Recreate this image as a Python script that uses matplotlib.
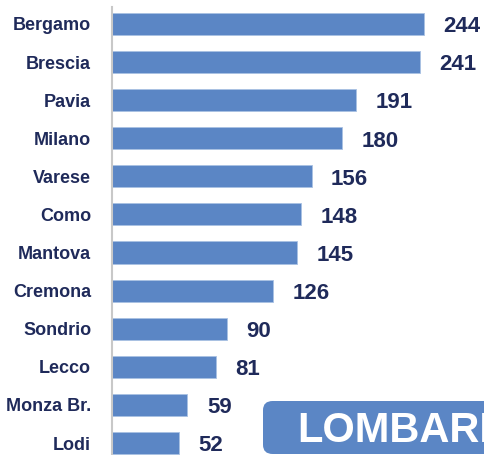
"""Horizontal bar chart of counts by province, Lombardia."""

import matplotlib
matplotlib.use("Agg")
import matplotlib.pyplot as plt
from matplotlib.patches import FancyBboxPatch

provinces = ["Bergamo", "Brescia", "Pavia", "Milano", "Varese", "Como",
             "Mantova", "Cremona", "Sondrio", "Lecco", "Monza Br.", "Lodi"]
counts = [244, 241, 191, 180, 156, 148, 145, 126, 90, 81, 59, 52]
region_label = "LOMBARDIA"

BAR_COLOR = "#5B86C5"
TEXT_COLOR = "#1F2A5A"

plt.rcParams["font.family"] = ["Liberation Sans", "DejaVu Sans"]

fig = plt.figure(figsize=(4.85, 4.55), dpi=100)
ax = fig.add_axes([112 / 485, 0, 1 - 112 / 485, 1 - 7 / 455])

positions = list(range(len(provinces)))
bars = ax.barh(positions, counts, height=0.58, color=BAR_COLOR,
               edgecolor="#A9C1E3", linewidth=0.6)

for bar, value in zip(bars, counts):
    ax.annotate(f"{value}", xy=(bar.get_width(), bar.get_y() + bar.get_height() / 2),
                xytext=(14, -2), textcoords="offset points", va="center", ha="left",
                fontsize=16, fontweight="bold", color=TEXT_COLOR)

ax.set_xlim(0, (485 - 112) / 1.279)
ax.set_ylim(11.315, -0.446)
ax.set_yticks(positions)
ax.set_yticklabels(provinces, fontsize=13, fontweight="bold", color=TEXT_COLOR)
ax.tick_params(axis="y", length=0, pad=15)
ax.set_xticks([])

for side in ["top", "right", "bottom"]:
    ax.spines[side].set_visible(False)
ax.spines["left"].set_color("#C8C8C8")
ax.spines["left"].set_linewidth(1.5)

# region badge in the lower right corner, running off the edge
badge = FancyBboxPatch((263 / 485, 1 / 455), 260 / 485, 53 / 455,
                       boxstyle="round,pad=0,rounding_size=0.02",
                       transform=fig.transFigure, facecolor=BAR_COLOR,
                       edgecolor="none", zorder=5)
fig.patches.append(badge)
fig.text(297 / 485, 13 / 455, region_label, fontsize=30, fontweight="bold",
         color="white", ha="left", va="baseline", zorder=6)

fig.savefig("out.png", dpi=100)
